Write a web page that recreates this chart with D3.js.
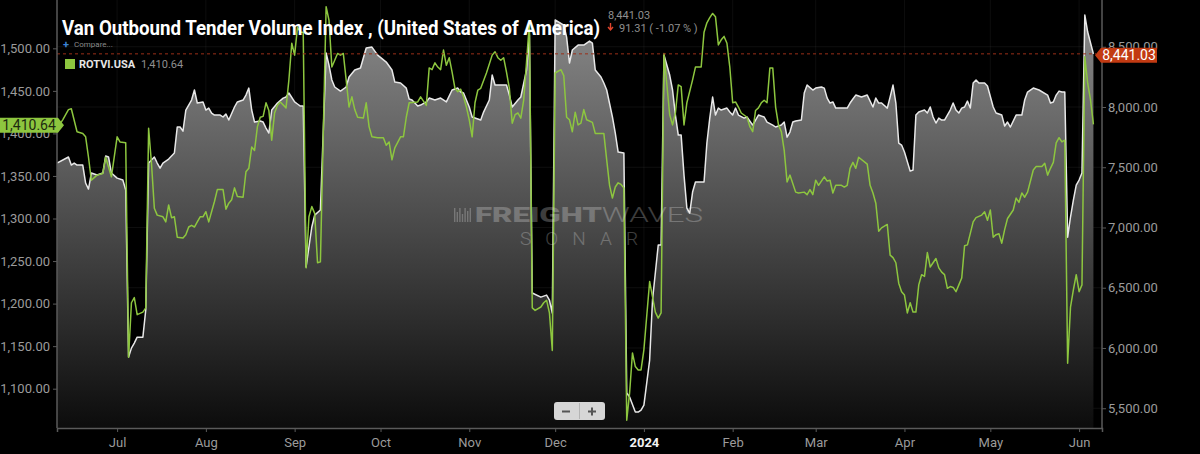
<!DOCTYPE html>
<html>
<head lang="en">
    <meta charset="UTF-8">
    <title>Van Outbound Tender Volume Index</title>
    <script type="text/javascript" src="https://cdnjs.cloudflare.com/ajax/libs/d3/7.8.5/d3.min.js"></script>
    <style>
        body { margin: 0; background: #000; }
        svg { display: block; font-family: Roboto, "Liberation Sans", sans-serif; }
    </style>
</head>
<body>
<div class="holder"></div>

<script>
    // VOTVI.USA (white area, right axis)
    var votviDates = [
        "2023-06-10","2023-06-14","2023-06-15","2023-06-16","2023-06-17","2023-06-19","2023-06-20","2023-06-21","2023-06-22","2023-06-24","2023-06-26","2023-06-27","2023-06-28","2023-06-29",
        "2023-07-01","2023-07-03","2023-07-04","2023-07-05","2023-07-06","2023-07-07","2023-07-08","2023-07-10","2023-07-11","2023-07-12","2023-07-14","2023-07-15","2023-07-16","2023-07-17","2023-07-19","2023-07-21","2023-07-22","2023-07-23","2023-07-24","2023-07-25","2023-07-27","2023-07-28","2023-07-29","2023-07-31",
        "2023-08-01","2023-08-02","2023-08-03","2023-08-04","2023-08-06","2023-08-07","2023-08-08","2023-08-09","2023-08-11","2023-08-12","2023-08-14","2023-08-15","2023-08-16","2023-08-17","2023-08-18","2023-08-20","2023-08-21","2023-08-22","2023-08-23","2023-08-24","2023-08-26","2023-08-28","2023-08-29","2023-08-30",
        "2023-09-01","2023-09-02","2023-09-03","2023-09-04","2023-09-05","2023-09-06","2023-09-07","2023-09-08","2023-09-10","2023-09-12","2023-09-13","2023-09-14","2023-09-15","2023-09-17","2023-09-19","2023-09-20","2023-09-22","2023-09-24","2023-09-26","2023-09-28","2023-09-30",
        "2023-10-03","2023-10-05","2023-10-06","2023-10-08","2023-10-10","2023-10-11","2023-10-12","2023-10-14","2023-10-15","2023-10-17","2023-10-18","2023-10-20","2023-10-22","2023-10-24","2023-10-26","2023-10-28","2023-10-29","2023-10-30",
        "2023-11-01","2023-11-02","2023-11-03","2023-11-05","2023-11-06","2023-11-08","2023-11-09","2023-11-10","2023-11-12","2023-11-14","2023-11-15","2023-11-16","2023-11-18","2023-11-19","2023-11-21","2023-11-22","2023-11-23","2023-11-26","2023-11-28","2023-11-29","2023-11-30",
        "2023-12-01","2023-12-04","2023-12-05","2023-12-06","2023-12-07","2023-12-09","2023-12-11","2023-12-13","2023-12-14","2023-12-15","2023-12-17","2023-12-18","2023-12-19","2023-12-21","2023-12-22","2023-12-23","2023-12-25","2023-12-26","2023-12-27","2023-12-29","2023-12-30","2023-12-31",
        "2024-01-01","2024-01-03","2024-01-04","2024-01-06","2024-01-07","2024-01-08","2024-01-10","2024-01-11","2024-01-12","2024-01-13","2024-01-14","2024-01-15","2024-01-16","2024-01-17","2024-01-18","2024-01-19","2024-01-22","2024-01-23","2024-01-24","2024-01-25","2024-01-26","2024-01-27","2024-01-28","2024-01-30","2024-01-31",
        "2024-02-01","2024-02-02","2024-02-03","2024-02-05","2024-02-06","2024-02-08","2024-02-09","2024-02-10","2024-02-12","2024-02-13","2024-02-15","2024-02-16","2024-02-18","2024-02-19","2024-02-20","2024-02-21","2024-02-22","2024-02-23","2024-02-25","2024-02-26","2024-02-27","2024-02-29",
        "2024-03-01","2024-03-03","2024-03-04","2024-03-05","2024-03-06","2024-03-07","2024-03-08","2024-03-10","2024-03-12","2024-03-13","2024-03-14","2024-03-15","2024-03-17","2024-03-19","2024-03-21","2024-03-22","2024-03-23","2024-03-24","2024-03-26","2024-03-27","2024-03-28","2024-03-29","2024-03-30","2024-03-31",
        "2024-04-01","2024-04-03","2024-04-04","2024-04-05","2024-04-06","2024-04-08","2024-04-09","2024-04-10","2024-04-11","2024-04-12","2024-04-13","2024-04-14","2024-04-15","2024-04-16","2024-04-17","2024-04-18","2024-04-19","2024-04-20","2024-04-21","2024-04-22","2024-04-23","2024-04-24","2024-04-25","2024-04-26","2024-04-27","2024-04-29","2024-04-30",
        "2024-05-02","2024-05-03","2024-05-05","2024-05-06","2024-05-07","2024-05-08","2024-05-10","2024-05-12","2024-05-13","2024-05-14","2024-05-16","2024-05-18","2024-05-21","2024-05-22","2024-05-23","2024-05-24","2024-05-25","2024-05-26","2024-05-27","2024-05-28","2024-05-29","2024-05-30","2024-05-31",
        "2024-06-01","2024-06-02","2024-06-03","2024-06-04","2024-06-05","2024-06-06"
    ];
    var votviValues = [
        7535,7585,7518,7535,7518,7518,7369,7319,7452,7435,7452,7593,7585,7452,
        7410,7394,7311,5925,5999,6041,6090,6090,6315,7535,7585,7535,7493,7535,7568,7618,7834,7834,7800,7975,8058,8141,8033,8042,
        7975,7991,7950,7933,7933,7917,7942,7892,8000,8042,8058,8099,8157,7975,7875,7884,7875,7825,7784,7975,8033,8074,8083,8116,
        8042,8025,8008,8008,6672,6838,7004,7103,7145,8448,8348,8224,8166,8132,8166,8249,8307,8323,8489,8497,8431,
        8373,8307,8207,8199,8157,8066,8058,8008,8016,8042,8074,8058,8074,8042,8141,8157,8124,8116,
        8000,7917,7909,7892,7958,8058,8265,8182,8182,8182,8099,8000,8058,8083,8307,8600,6456,6422,6439,6398,6290,
        8722,8680,8580,8365,8473,8514,8514,8547,8531,8307,8249,8199,8141,7917,7784,7626,7618,5626,5593,5468,5468,5485,
        5526,5900,6398,6854,6854,8431,8265,8141,7933,7767,7767,7435,7161,7120,7294,7377,7377,7701,7908,8083,7933,7991,7975,7991,7958,
        7933,7991,7933,7908,7917,7850,7892,7933,7917,7875,7850,7834,7850,7875,7750,7792,7875,7884,7892,8116,8182,8141,
        8157,8166,8157,8074,8033,8042,7991,7991,7991,8033,8066,8099,8083,8099,8000,8074,8033,8033,7991,8083,8182,8033,7701,7684,
        7626,7468,7477,7933,7958,7975,7950,8000,7917,7867,7908,7892,7892,7933,7975,8033,7975,7950,7991,8000,8049,7991,8199,8224,8199,8199,8174,
        8000,7950,7933,7842,7875,7834,7933,7933,8058,8124,8157,8141,8099,8033,8042,8099,8132,8124,8124,6920,7087,7228,7352,
        7394,7452,8763,8622,8531,8441.03
    ];

    // ROTVI.USA (green line, left axis)
    var rotviDates = [
        "2023-06-10","2023-06-12","2023-06-14","2023-06-15","2023-06-17","2023-06-19","2023-06-20","2023-06-21","2023-06-22","2023-06-23","2023-06-24","2023-06-26","2023-06-27","2023-06-29",
        "2023-07-01","2023-07-02","2023-07-04","2023-07-05","2023-07-06","2023-07-07","2023-07-08","2023-07-10","2023-07-11","2023-07-12","2023-07-13","2023-07-14","2023-07-15","2023-07-17","2023-07-18","2023-07-19","2023-07-20","2023-07-21","2023-07-22","2023-07-24","2023-07-25","2023-07-26","2023-07-27","2023-07-28","2023-07-29","2023-07-30","2023-07-31",
        "2023-08-01","2023-08-02","2023-08-04","2023-08-05","2023-08-07","2023-08-08","2023-08-09","2023-08-10","2023-08-11","2023-08-12","2023-08-14","2023-08-15","2023-08-16","2023-08-17","2023-08-18","2023-08-19","2023-08-20","2023-08-21","2023-08-22","2023-08-23","2023-08-24","2023-08-25","2023-08-26","2023-08-27","2023-08-29","2023-08-30","2023-08-31",
        "2023-09-01","2023-09-02","2023-09-03","2023-09-04","2023-09-05","2023-09-06","2023-09-07","2023-09-08","2023-09-09","2023-09-10","2023-09-12","2023-09-13","2023-09-14","2023-09-15","2023-09-16","2023-09-17","2023-09-18","2023-09-19","2023-09-20","2023-09-21","2023-09-22","2023-09-23","2023-09-25","2023-09-26","2023-09-27","2023-09-28","2023-09-30",
        "2023-10-02","2023-10-03","2023-10-04","2023-10-05","2023-10-06","2023-10-08","2023-10-09","2023-10-10","2023-10-11","2023-10-14","2023-10-15","2023-10-17","2023-10-18","2023-10-19","2023-10-20","2023-10-21","2023-10-22","2023-10-23","2023-10-24","2023-10-25","2023-10-26","2023-10-27","2023-10-28","2023-10-29","2023-10-30","2023-10-31",
        "2023-11-01","2023-11-02","2023-11-03","2023-11-04","2023-11-05","2023-11-07","2023-11-09","2023-11-10","2023-11-11","2023-11-12","2023-11-13","2023-11-14","2023-11-15","2023-11-16","2023-11-17","2023-11-18","2023-11-19","2023-11-20","2023-11-21","2023-11-22","2023-11-23","2023-11-24","2023-11-26","2023-11-27","2023-11-28","2023-11-29","2023-11-30",
        "2023-12-01","2023-12-03","2023-12-04","2023-12-05","2023-12-06","2023-12-07","2023-12-08","2023-12-09","2023-12-10","2023-12-11","2023-12-12","2023-12-14","2023-12-15","2023-12-17","2023-12-18","2023-12-19","2023-12-20","2023-12-21","2023-12-22","2023-12-23","2023-12-24","2023-12-25","2023-12-26","2023-12-27","2023-12-28","2023-12-29","2023-12-30","2023-12-31",
        "2024-01-01","2024-01-03","2024-01-04","2024-01-05","2024-01-06","2024-01-07","2024-01-08","2024-01-10","2024-01-11","2024-01-12","2024-01-13","2024-01-14","2024-01-15","2024-01-16","2024-01-18","2024-01-19","2024-01-21","2024-01-22","2024-01-23","2024-01-24","2024-01-25","2024-01-26","2024-01-27","2024-01-28","2024-01-29","2024-01-30","2024-01-31",
        "2024-02-01","2024-02-02","2024-02-03","2024-02-04","2024-02-06","2024-02-07","2024-02-08","2024-02-09","2024-02-10","2024-02-11","2024-02-12","2024-02-13","2024-02-14","2024-02-15","2024-02-16","2024-02-17","2024-02-18","2024-02-19","2024-02-20","2024-02-21","2024-02-23","2024-02-24","2024-02-26","2024-02-27","2024-02-28","2024-02-29",
        "2024-03-01","2024-03-02","2024-03-04","2024-03-05","2024-03-06","2024-03-07","2024-03-08","2024-03-10","2024-03-11","2024-03-12","2024-03-13","2024-03-14","2024-03-15","2024-03-16","2024-03-19","2024-03-20","2024-03-21","2024-03-22","2024-03-23","2024-03-24","2024-03-26","2024-03-27","2024-03-28","2024-03-29","2024-03-30","2024-03-31",
        "2024-04-01","2024-04-02","2024-04-03","2024-04-04","2024-04-05","2024-04-06","2024-04-07","2024-04-08","2024-04-09","2024-04-10","2024-04-11","2024-04-12","2024-04-13","2024-04-14","2024-04-15","2024-04-16","2024-04-17","2024-04-18","2024-04-19","2024-04-20","2024-04-21","2024-04-22","2024-04-23","2024-04-25","2024-04-26","2024-04-28","2024-04-29","2024-04-30",
        "2024-05-01","2024-05-02","2024-05-03","2024-05-04","2024-05-05","2024-05-06","2024-05-07","2024-05-09","2024-05-10","2024-05-11","2024-05-12","2024-05-13","2024-05-14","2024-05-16","2024-05-17","2024-05-19","2024-05-20","2024-05-21","2024-05-22","2024-05-23","2024-05-24","2024-05-25","2024-05-26","2024-05-27","2024-05-28","2024-05-29","2024-05-30","2024-05-31",
        "2024-06-01","2024-06-02","2024-06-03","2024-06-04","2024-06-05","2024-06-06"
    ];
    var rotviValues = [
        1406,1416,1428,1429,1402,1400,1396,1372,1345,1348,1351,1353,1372,1349,
        1396,1390,1389,1137,1201,1207,1187,1190,1195,1406,1365,1312,1304,1302,1296,1316,1301,1302,1278,1277,1281,1290,1292,1290,1296,1302,1302,
        1308,1296,1320,1334,1334,1311,1318,1322,1336,1326,1325,1355,1359,1384,1380,1408,1419,1420,1436,1427,1392,1424,1433,1437,1430,1463,1506,
        1492,1525,1519,1519,1242,1302,1314,1306,1248,1249,1549,1533,1478,1486,1494,1492,1494,1463,1431,1443,1428,1419,1418,1436,1408,1396,1395,
        1395,1386,1390,1369,1383,1396,1396,1419,1436,1437,1443,1433,1477,1475,1483,1478,1475,1498,1480,1489,1472,1453,1449,1452,1443,1431,
        1416,1396,1436,1451,1453,1471,1492,1496,1489,1486,1489,1472,1453,1412,1422,1424,1418,1439,1484,1530,1195,1192,1196,1201,1204,1189,1145,
        1471,1475,1468,1419,1416,1402,1425,1410,1412,1428,1416,1413,1400,1400,1400,1369,1339,1324,1337,1342,1340,1336,1063,1095,1142,1126,1122,1122,
        1146,1226,1208,1190,1183,1189,1494,1422,1410,1424,1457,1455,1410,1436,1463,1478,1478,1519,1530,1536,1541,1537,1504,1510,1514,1506,1478,
        1436,1437,1431,1424,1419,1408,1402,1427,1430,1436,1439,1436,1477,1477,1431,1410,1402,1380,1343,1351,1331,1330,1331,1328,1334,1328,
        1345,1339,1349,1344,1345,1330,1339,1339,1337,1339,1359,1366,1359,1372,1364,1339,1330,1318,1285,1289,1293,1257,1254,1248,1224,1214,
        1210,1189,1201,1190,1190,1222,1234,1232,1260,1243,1248,1253,1242,1237,1234,1218,1220,1219,1214,1222,1230,1268,1269,1296,1301,1304,1308,1298,
        1310,1278,1281,1282,1271,1287,1300,1310,1324,1319,1330,1325,1331,1357,1361,1361,1365,1351,1359,1366,1389,1395,1390,1392,1130,1196,1216,1234,
        1214,1222,1490,1459,1439,1410.64
    ];

    var leftTicks = [1100, 1150, 1200, 1250, 1300, 1350, 1400, 1450, 1500];
    var rightTicks = [5500, 6000, 6500, 7000, 7500, 8000, 8500];
    var monthTicks = ["2023-07-01","2023-08-01","2023-09-01","2023-10-01","2023-11-01","2023-12-01","2024-01-01","2024-02-01","2024-03-01","2024-04-01","2024-05-01","2024-06-01"];
    var monthLabels = ["Jul","Aug","Sep","Oct","Nov","Dec","2024","Feb","Mar","Apr","May","Jun"];

    var votviLast = 8441.03, votviChange = "91.31", votviPct = "( -1.07 % )";
    var rotviLast = 1410.64;

    var W = 1200, H = 454;
    // note: "top" is reserved on window, so plot edges get their own names
    var plotL = 57, plotR = 1102, plotT = 0, plotB = 428;
    var parse = d3.timeParse("%Y-%m-%d");
    var fmt = d3.format(",.2f");

    var votvi = votviDates.map(function (d, i) { return {date: parse(d), value: votviValues[i]}; });
    var rotvi = rotviDates.map(function (d, i) { return {date: parse(d), value: rotviValues[i]}; });

    var x = d3.scaleTime()
            .domain([parse("2023-06-10"), parse("2024-06-09")])
            .range([plotL, plotR]);
    var yLeft = d3.scaleLinear().domain([1053.8, 1556.8]).range([plotB, plotT]);
    var yRight = d3.scaleLinear().domain([5336, 8888]).range([plotB, plotT]);

    var svg = d3.select(".holder")
            .append("svg")
            .attr("width", W)
            .attr("height", H);

    svg.append("rect").attr("width", W).attr("height", H).attr("fill", "#000");

    var defs = svg.append("defs");
    var grad = defs.append("linearGradient")
            .attr("id", "areaFill")
            .attr("gradientUnits", "userSpaceOnUse")
            .attr("x1", 0).attr("y1", plotT)
            .attr("x2", 0).attr("y2", plotB);
    grad.append("stop").attr("offset", "0%").attr("stop-color", "#8e8e8e");
    grad.append("stop").attr("offset", "100%").attr("stop-color", "#0c0c0c");

    defs.append("clipPath").attr("id", "plotClip")
            .append("rect")
            .attr("x", plotL).attr("y", plotT)
            .attr("width", plotR - plotL).attr("height", plotB - plotT);

    // grid
    var grid = svg.append("g");
    grid.selectAll("line.h")
            .data(rightTicks)
            .enter()
            .append("line")
            .attr("x1", plotL).attr("x2", plotR)
            .attr("y1", function (d) { return yRight(d); })
            .attr("y2", function (d) { return yRight(d); })
            .attr("stroke", "#ffffff")
            .attr("stroke-opacity", 0.06);
    grid.selectAll("line.v")
            .data(monthTicks)
            .enter()
            .append("line")
            .attr("x1", function (d) { return x(parse(d)); })
            .attr("x2", function (d) { return x(parse(d)); })
            .attr("y1", plotT).attr("y2", plotB)
            .attr("stroke", "#ffffff")
            .attr("stroke-opacity", 0.05);

    var plot = svg.append("g").attr("clip-path", "url(#plotClip)");

    var area = d3.area()
            .x(function (d) { return x(d.date); })
            .y0(plotB)
            .y1(function (d) { return yRight(d.value); });

    plot.append("path")
            .datum(votvi)
            .attr("d", area)
            .attr("fill", "url(#areaFill)");

    // watermark
    var wm = svg.append("g").attr("opacity", 0.24);
    var barH = [14, 10, 14, 8, 14, 11, 14];
    wm.selectAll("rect")
            .data(barH)
            .enter()
            .append("rect")
            .attr("x", function (d, i) { return 454 + i * 2.6; })
            .attr("y", function (d) { return 222 - d; })
            .attr("width", 1.4)
            .attr("height", function (d) { return d; })
            .attr("fill", "#fff");
    var wmText = wm.append("text")
            .attr("x", 475).attr("y", 222)
            .attr("font-size", 20)
            .attr("fill", "#fff")
            .attr("textLength", 228)
            .attr("lengthAdjust", "spacingAndGlyphs");
    wmText.append("tspan").attr("font-weight", 900).text("FREIGHT");
    wmText.append("tspan").attr("font-weight", 300).text("WAVES");
    wm.append("text")
            .attr("x", 520).attr("y", 245)
            .attr("font-size", 19)
            .attr("font-weight", 300)
            .attr("fill", "#fff")
            .attr("textLength", 118)
            .attr("lengthAdjust", "spacing")
            .text("SONAR");

    var lineR = d3.line()
            .x(function (d) { return x(d.date); })
            .y(function (d) { return yRight(d.value); });
    var lineL = d3.line()
            .x(function (d) { return x(d.date); })
            .y(function (d) { return yLeft(d.value); });

    plot.append("path")
            .datum(votvi)
            .attr("d", lineR)
            .attr("fill", "none")
            .attr("stroke", "#e8e8e8")
            .attr("stroke-width", 1.5)
            .attr("stroke-linejoin", "round");

    plot.append("path")
            .datum(rotvi)
            .attr("d", lineL)
            .attr("fill", "none")
            .attr("stroke", "#8dc63f")
            .attr("stroke-width", 1.5)
            .attr("stroke-linejoin", "round");

    // last value dashed line
    svg.append("line")
            .attr("x1", plotL).attr("x2", plotR - 6)
            .attr("y1", yRight(votviLast)).attr("y2", yRight(votviLast))
            .attr("stroke", "#9a2f18")
            .attr("stroke-width", 1)
            .attr("stroke-dasharray", "3,3");

    // axes
    var axisColor = "#5a5a5a", labelColor = "#9b9b9b";

    var gL = svg.append("g").attr("transform", "translate(" + plotL + ",0)")
            .call(d3.axisLeft(yLeft).tickValues(leftTicks).tickFormat(fmt).tickSize(4).tickPadding(3));
    var gR = svg.append("g").attr("transform", "translate(" + plotR + ",0)")
            .call(d3.axisRight(yRight).tickValues(rightTicks).tickFormat(fmt).tickSize(4).tickPadding(2));
    var gB = svg.append("g").attr("transform", "translate(0," + plotB + ")")
            .call(d3.axisBottom(x).tickValues(monthTicks.map(parse))
                    .tickFormat(function (d, i) { return monthLabels[i]; })
                    .tickSize(4).tickPadding(6));

    [gL, gR, gB].forEach(function (g) {
        g.select(".domain").attr("stroke", axisColor).attr("stroke-width", 1.5);
        g.selectAll(".tick line").attr("stroke", axisColor);
        g.selectAll(".tick text")
                .attr("fill", labelColor)
                .attr("font-size", 13)
                .attr("font-family", "Roboto, sans-serif");
    });
    gB.selectAll(".tick text")
            .filter(function (d, i) { return monthLabels[i] === "2024"; })
            .attr("fill", "#f2f2f2")
            .attr("font-weight", "bold");
    gL.select(".domain").attr("d", "M0," + plotT + "V" + plotB);
    gR.select(".domain").attr("d", "M0," + plotT + "V" + plotB);

    // last value tags
    var yr = yRight(votviLast) + 1.5;
    svg.append("path")
            .attr("d", "M" + (plotR - 7) + "," + yr + "L" + (plotR - 1) + "," + (yr - 7.5) + "H" + 1157 + "V" + (yr + 7.5) + "H" + (plotR - 1) + "Z")
            .attr("fill", "#c23a12");
    svg.append("text")
            .attr("x", 1129).attr("y", yr + 5)
            .attr("text-anchor", "middle")
            .attr("font-size", 14)
            .attr("fill", "#fff")
            .text(fmt(votviLast));

    var yl = yLeft(rotviLast) + 1;
    svg.append("path")
            .attr("d", "M0," + (yl - 7.5) + "H58L64," + yl + "L58," + (yl + 7.5) + "H0Z")
            .attr("fill", "#8dc63f");
    svg.append("text")
            .attr("x", 29).attr("y", yl + 5)
            .attr("text-anchor", "middle")
            .attr("font-size", 14)
            .attr("fill", "#1e2a10")
            .text(fmt(rotviLast));

    // title and legend
    svg.append("text")
            .attr("x", 62).attr("y", 35)
            .attr("font-size", 20)
            .attr("font-weight", "bold")
            .attr("fill", "#fff")
            .attr("textLength", 538)
            .attr("lengthAdjust", "spacingAndGlyphs")
            .text("Van Outbound  Tender Volume Index , (United States of America)");

    svg.append("text")
            .attr("x", 608).attr("y", 19)
            .attr("font-size", 11)
            .attr("fill", "#8f8f8f")
            .text(fmt(votviLast));
    svg.append("path")
            .attr("d", "M610.5,23V29M608,27L610.5,30L613,27")
            .attr("fill", "none")
            .attr("stroke", "#e0442c")
            .attr("stroke-width", 1.4);
    svg.append("text")
            .attr("x", 619).attr("y", 32)
            .attr("font-size", 11)
            .attr("fill", "#8f8f8f")
            .text(votviChange + " " + votviPct);

    svg.append("text")
            .attr("x", 63).attr("y", 48)
            .attr("font-size", 11)
            .attr("font-weight", "bold")
            .attr("fill", "#3b82d6")
            .text("+");
    svg.append("text")
            .attr("x", 74).attr("y", 47)
            .attr("font-size", 8)
            .attr("fill", "#8a8a8a")
            .text("Compare...");

    svg.append("rect")
            .attr("x", 65).attr("y", 59)
            .attr("width", 10).attr("height", 10)
            .attr("fill", "#8dc63f");
    svg.append("text")
            .attr("x", 79).attr("y", 68)
            .attr("font-size", 11)
            .attr("font-weight", "bold")
            .attr("fill", "#e6e6e6")
            .text("ROTVI.USA");
    svg.append("text")
            .attr("x", 141).attr("y", 68)
            .attr("font-size", 11)
            .attr("fill", "#8f8f8f")
            .text(fmt(rotviLast));

    // zoom buttons
    var zb = svg.append("g");
    zb.append("rect")
            .attr("x", 554).attr("y", 402)
            .attr("width", 51).attr("height", 18)
            .attr("rx", 3)
            .attr("fill", "#d6d6d6");
    zb.append("line")
            .attr("x1", 579.5).attr("x2", 579.5)
            .attr("y1", 403).attr("y2", 419)
            .attr("stroke", "#b4b4b4");
    zb.append("path")
            .attr("d", "M562,411.5H570M588,411.5H596M592,407.5V415.5")
            .attr("stroke", "#555")
            .attr("stroke-width", 2);
</script>
</body>
</html>
